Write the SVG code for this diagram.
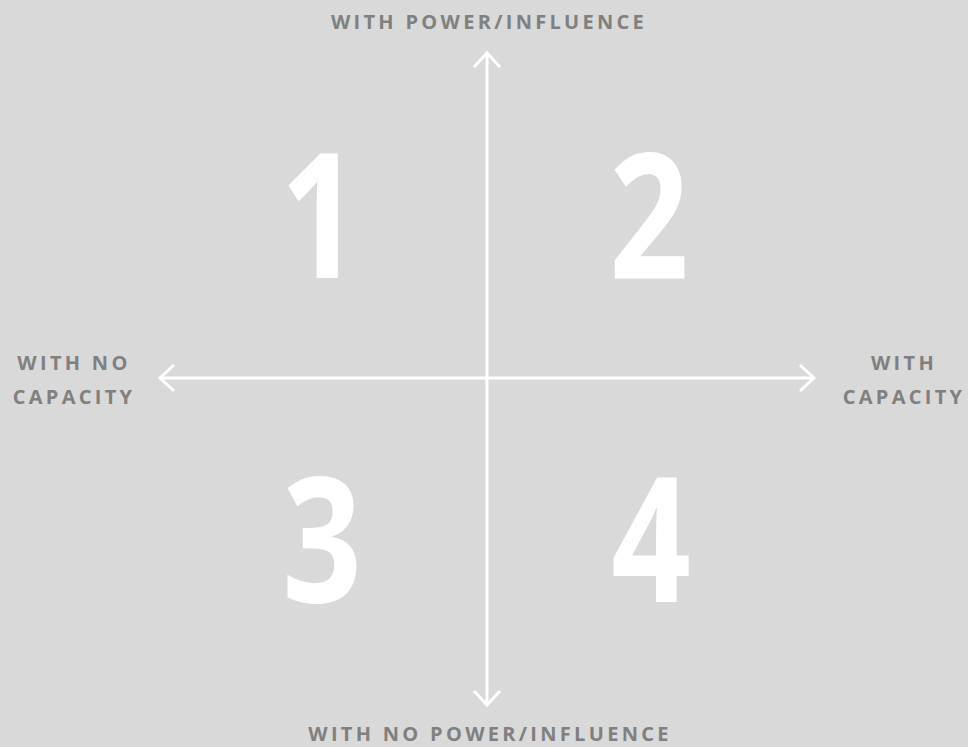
<svg xmlns="http://www.w3.org/2000/svg" width="968" height="747" viewBox="0 0 968 747">
<style>
.lbl{font-family:"Open Sans","Liberation Sans",sans-serif;font-weight:700;font-size:20px;letter-spacing:3.3px;fill:#808080;text-anchor:middle}
.num{font-family:"Open Sans","Liberation Sans",sans-serif;font-weight:700;font-size:174px;fill:#ffffff;text-anchor:middle}
.ax{stroke:#ffffff;stroke-width:3;fill:none}
</style>
<rect width="968" height="747" fill="#d9d9d9"/>
<g id="connectors">
<line class="ax" x1="487" y1="53" x2="487" y2="705"/>
<line class="ax" x1="160" y1="378" x2="814" y2="378"/>
<polyline class="ax" points="474,67 487,53 500,67"/>
<polyline class="ax" points="474,691 487,705 500,691"/>
<polyline class="ax" points="174,365 160,378 174,391"/>
<polyline class="ax" points="800,365 814,378 800,391"/>
</g>
<g id="q1"><text class="num" transform="translate(320,278) scale(0.8,1)">1</text></g>
<g id="q2"><text class="num" transform="translate(649,278) scale(0.8,1)">2</text></g>
<g id="q3"><text class="num" transform="translate(322,602) scale(0.8,1)">3</text></g>
<g id="q4"><text class="num" transform="translate(651,602) scale(0.8,1)">4</text></g>
<g id="top"><text class="lbl" x="489" y="29">WITH POWER/INFLUENCE</text></g>
<g id="bottom"><text class="lbl" x="490" y="741">WITH NO POWER/INFLUENCE</text></g>
<g id="left"><text class="lbl" x="74" y="370">WITH NO</text><text class="lbl" x="74" y="404">CAPACITY</text></g>
<g id="right"><text class="lbl" x="904" y="370">WITH</text><text class="lbl" x="904" y="404">CAPACITY</text></g>
</svg>
